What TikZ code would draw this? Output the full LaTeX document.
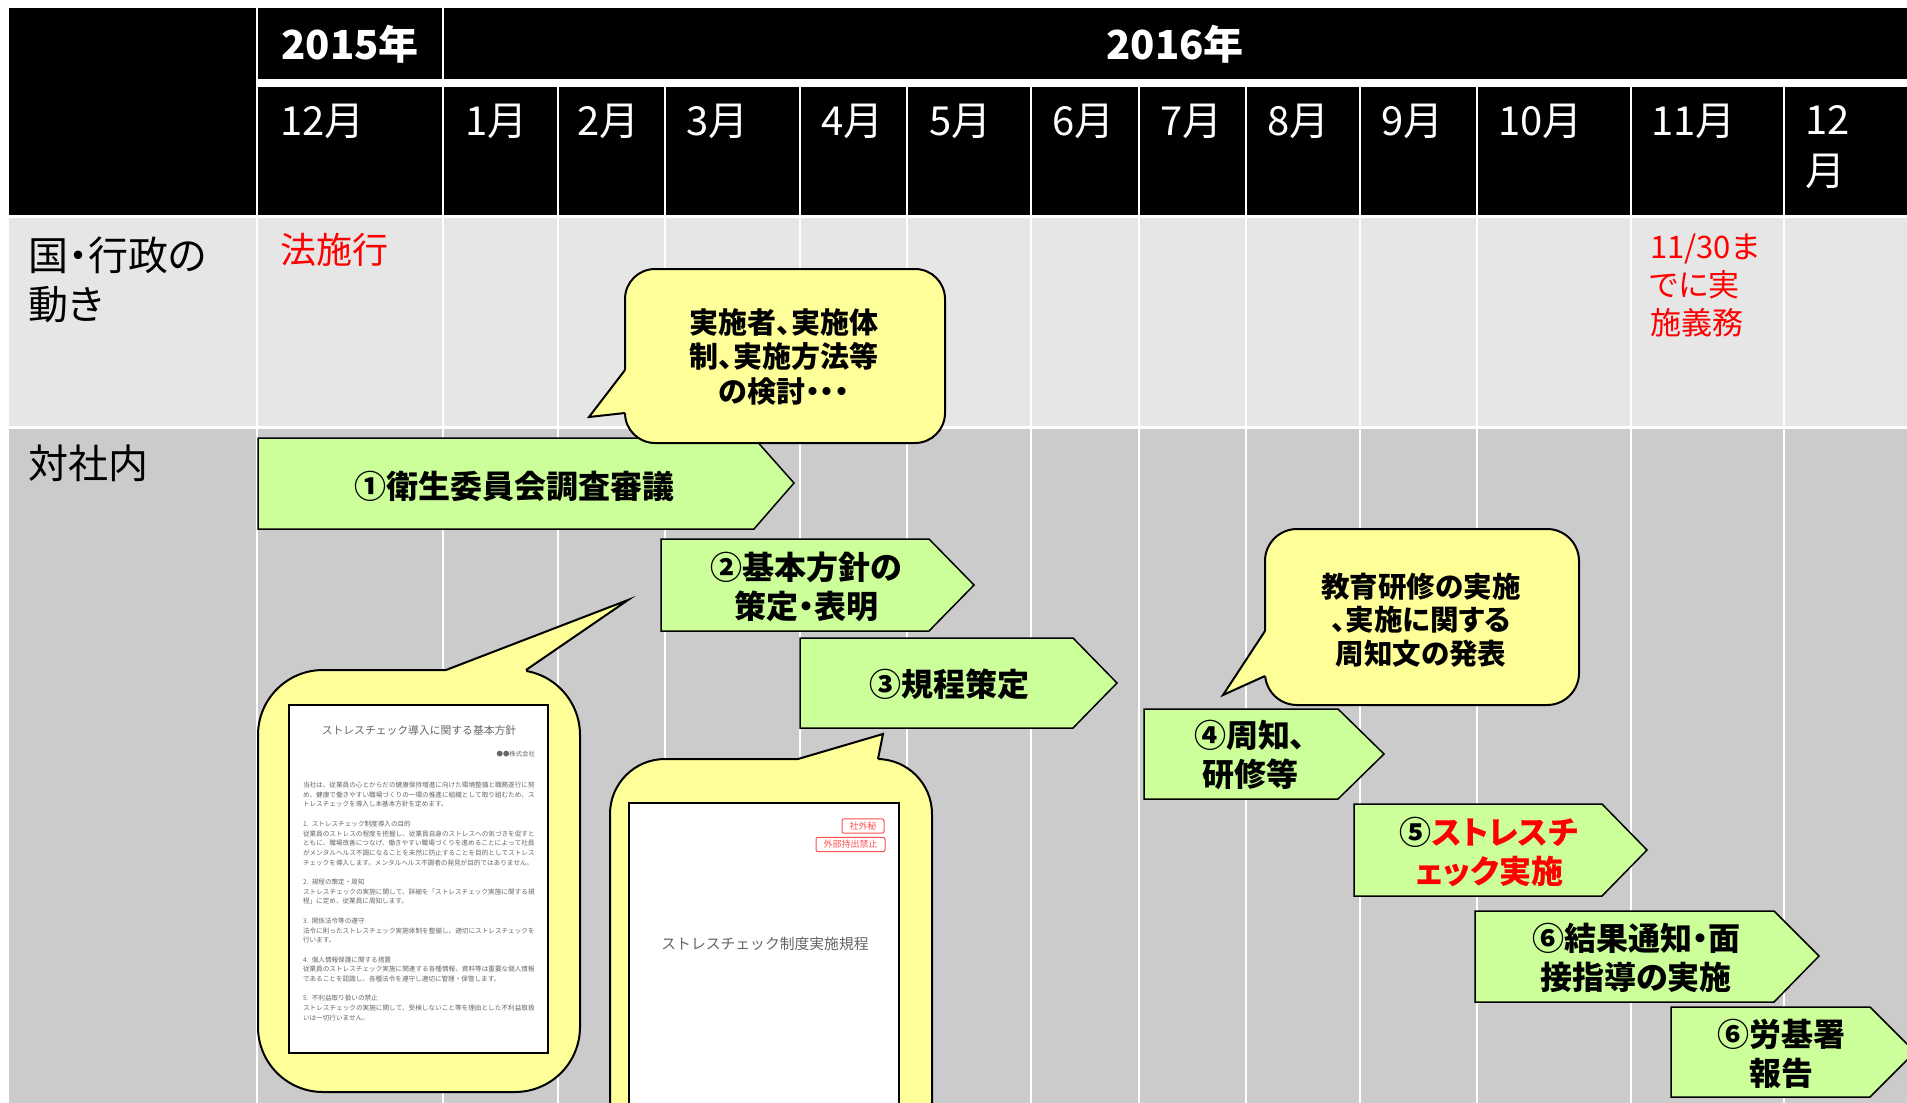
\documentclass[tikz,border=0pt]{standalone}
\usepackage{fontspec}
\setmainfont{Noto Sans CJK JP}[RawFeature=+palt]
\newfontfamily\docfont{Noto Sans CJK JP}
\XeTeXlinebreaklocale "ja"
\XeTeXlinebreakskip=0pt plus 1pt
\definecolor{rowA}{HTML}{E6E6E6}
\definecolor{rowB}{HTML}{CBCBCB}
\definecolor{bubbleY}{HTML}{FFFF99}
\definecolor{arrowG}{HTML}{CCFF99}
\definecolor{docgray}{HTML}{666666}
\definecolor{stampred}{HTML}{FF5050}
\newcommand\myfs[2]{\fontsize{#1pt}{#2pt}\selectfont}
\tikzset{
  every node/.style={inner sep=0pt, outer sep=0pt},
  yeartxt/.style={text=white, font=\bfseries\myfs{40}{48}},
  monthtxt/.style={text=white, font=\myfs{40}{51}, anchor=west, align=left},
  rowlabel/.style={font=\myfs{40}{49}, anchor=west, align=left},
  redtxt/.style={text=red, align=left, anchor=west},
  gridline/.style={white, line width=2.5pt},
  arrowbox/.style={fill=arrowG, draw=black, line width=1.5pt, line join=miter},
  arrowtxt/.style={font=\bfseries\myfs{32}{39}, align=center},
  bubblebox/.style={fill=bubbleY, draw=black, line width=2pt},
  bubblefill/.style={fill=bubbleY},
  bubbleedge/.style={draw=black, line width=2pt, line join=miter},
  bubbletxt/.style={align=center},
  docpage/.style={fill=white, draw=black, line width=1.5pt},
  doctxt/.style={font=\docfont\myfs{6.6}{9.7}, text=docgray},
  stamp/.style={draw=stampred, rounded corners=2pt, line width=1pt, text=stampred, font=\docfont\myfs{9}{11}, inner xsep=7.5pt, inner ysep=3pt, anchor=east}
}
\begin{document}
\begin{tikzpicture}[x=1pt,y=-1pt]
\useasboundingbox (0,0) rectangle (1907,1103);
\clip (0,0) rectangle (1907,1103);
\fill[white] (0,0) rectangle (1907,1103);
% ---------- table ----------
\fill[black] (9,8) rectangle (1907,215);
\fill[rowA] (9,217) rectangle (1907,426);
\fill[rowB] (9,428) rectangle (1907,1103);
\draw[white, line width=8pt] (257,83) -- (1907,83);
\draw[white, line width=3pt] (9,216) -- (1907,216);
\draw[white, line width=3pt] (9,427) -- (1907,427);
\draw[gridline] (257,8) -- (257,1103);
\draw[gridline] (443,8) -- (443,1103);
\foreach \x in {558,665,800,907,1031,1139,1246,1360,1477,1631,1784}
  \draw[gridline] (\x,83) -- (\x,1103);
% ---------- header text ----------
\node[yeartxt] (y2015) at (350,44) {2015年};
\node[yeartxt] (y2016) at (1175,44) {2016年};
\node[monthtxt] (m12a) at (280,121) {12月};
\node[monthtxt] (m01) at (465,121) {1月};
\node[monthtxt] (m02) at (577,121) {2月};
\node[monthtxt] (m03) at (686,121) {3月};
\node[monthtxt] (m04) at (821,121) {4月};
\node[monthtxt] (m05) at (929,121) {5月};
\node[monthtxt] (m06) at (1052,121) {6月};
\node[monthtxt] (m07) at (1160,121) {7月};
\node[monthtxt] (m08) at (1267,121) {8月};
\node[monthtxt] (m09) at (1381,121) {9月};
\node[monthtxt] (m10) at (1498,121) {10月};
\node[monthtxt] (m11) at (1651,121) {11月};
\node[monthtxt] (m12b) at (1805,147) {12\\月};
% ---------- row labels ----------
\node[rowlabel] (gov) at (28,280) {国・行政の\\動き};
\node[rowlabel] (inhouse) at (28,463) {対社内};
\node[redtxt, font=\myfs{36}{40}] (law) at (280,250) {法施行};
\node[redtxt, font=\myfs{31}{38}] (duty) at (1650,285) {11/30ま\\でに実\\施義務};
% ---------- green arrows ----------
\draw[arrowbox] (258,438) -- (754,438) -- (794,483) -- (754,529) -- (258,529) -- cycle;
\node[arrowtxt] (a1) at (514,486) {①衛生委員会調査審議};
\draw[arrowbox] (661,539) -- (929,539) -- (974,585) -- (929,631) -- (661,631) -- cycle;
\node[arrowtxt] (a2) at (806,587) {②基本方針の\\策定・表明};
\draw[arrowbox] (800,638) -- (1073,638) -- (1117,683) -- (1073,728) -- (800,728) -- cycle;
\node[arrowtxt] (a3) at (949,684) {③規程策定};
\draw[arrowbox] (1144,709) -- (1338,709) -- (1384,754) -- (1338,799) -- (1144,799) -- cycle;
\node[arrowtxt] (a4) at (1250,755) {④周知、\\研修等};
\draw[arrowbox] (1354,804) -- (1602,804) -- (1647,850) -- (1602,896) -- (1354,896) -- cycle;
\node[arrowtxt] (a5) at (1489,852) {⑤\textcolor{red}{ストレスチ}\\\textcolor{red}{ェック実施}};
\draw[arrowbox] (1475,911) -- (1774,911) -- (1819,956) -- (1774,1002) -- (1475,1002) -- cycle;
\node[arrowtxt] (a6) at (1636,958) {⑥結果通知・面\\接指導の実施};
\draw[arrowbox] (1671,1007) -- (1870,1007) -- (1915,1052) -- (1870,1097) -- (1671,1097) -- cycle;
\node[arrowtxt] (a7) at (1781,1054) {⑥労基署\\報告};
% ---------- callout 1 ----------
\draw[bubblebox, rounded corners=30pt] (625,269) rectangle (945,443);
\fill[bubblefill] (627,370) -- (625,370) -- (589,417) -- (625,413) -- (627,413) -- cycle;
\draw[bubbleedge] (625,370) -- (589,417) -- (625,413);
\node[bubbletxt, font=\bfseries\myfs{29}{34.5}] (c1) at (784,357) {実施者、実施体\\制、実施方法等\\の検討・・・};
% ---------- callout 2 ----------
\draw[bubblebox, rounded corners=32pt] (1265,529) rectangle (1579,705);
\fill[bubblefill] (1267,631) -- (1265,631) -- (1223,695) -- (1265,676) -- (1267,676) -- cycle;
\draw[bubbleedge] (1265,631) -- (1223,695) -- (1265,676);
\node[bubbletxt, font=\bfseries\myfs{28.5}{33.5}] (c2) at (1421,620) {教育研修の実施\\、実施に関する\\周知文の発表};
% ---------- callout A : policy document ----------
\draw[bubblebox, rounded corners=65pt] (258,670) rectangle (580,1092);
\fill[bubblefill] (446,672) -- (446,670) -- (628,600) -- (526,670) -- (526,672) -- cycle;
\draw[bubbleedge] (446,670) -- (628,600) -- (526,670);
\draw[docpage] (289,705) rectangle (548,1053);
\node[font=\docfont\myfs{10.8}{13}, text=docgray] (poltitle) at (419,730) {ストレスチェック導入に関する基本方針};
\node[font=\docfont\myfs{6.4}{8}, text=docgray, anchor=east] (company) at (535,754) {●●株式会社};
\node[doctxt, text width=232pt, anchor=north west] (polbody) at (303,782) {\parskip=9.7pt
当社は、従業員の心とからだの健康保持増進に向けた環境整備と職務遂行に努め、健康で働きやすい職場づくりの一環の推進に組織として取り組むため、ストレスチェックを導入し本基本方針を定めます。\par
1. ストレスチェック制度導入の目的\\従業員のストレスの程度を把握し、従業員自身のストレスへの気づきを促すとともに、職場改善につなげ、働きやすい職場づくりを進めることによって社員がメンタルヘルス不調になることを未然に防止することを目的としてストレスチェックを導入します。メンタルヘルス不調者の発見が目的ではありません。\par
2. 規程の策定・周知\\ストレスチェックの実施に関して、詳細を「ストレスチェック実施に関する規程」に定め、従業員に周知します。\par
3. 関係法令等の遵守\\法令に則ったストレスチェック実施体制を整備し、適切にストレスチェックを行います。\par
4. 個人情報保護に関する措置\\従業員のストレスチェック実施に関連する各種情報、資料等は重要な個人情報であることを認識し、各種法令を遵守し適切に管理・保管します。\par
5. 不利益取り扱いの禁止\\ストレスチェックの実施に関して、受検しないこと等を理由とした不利益取扱いは一切行いません。};
% ---------- callout B : regulation document ----------
\draw[bubblebox, rounded corners=55pt] (610,759) rectangle (932,1160);
\fill[bubblefill] (798,761) -- (798,759) -- (883,734) -- (878,759) -- (878,761) -- cycle;
\draw[bubbleedge] (798,759) -- (883,734) -- (878,759);
\draw[docpage] (629,803) rectangle (899,1160);
\node[stamp] (st1) at (884,826) {社外秘};
\node[stamp] (st2) at (885,844.5) {外部持出禁止};
\node[font=\docfont\myfs{14.8}{18}, text=docgray] (regtitle) at (765,944) {ストレスチェック制度実施規程};
\end{tikzpicture}
\end{document}
